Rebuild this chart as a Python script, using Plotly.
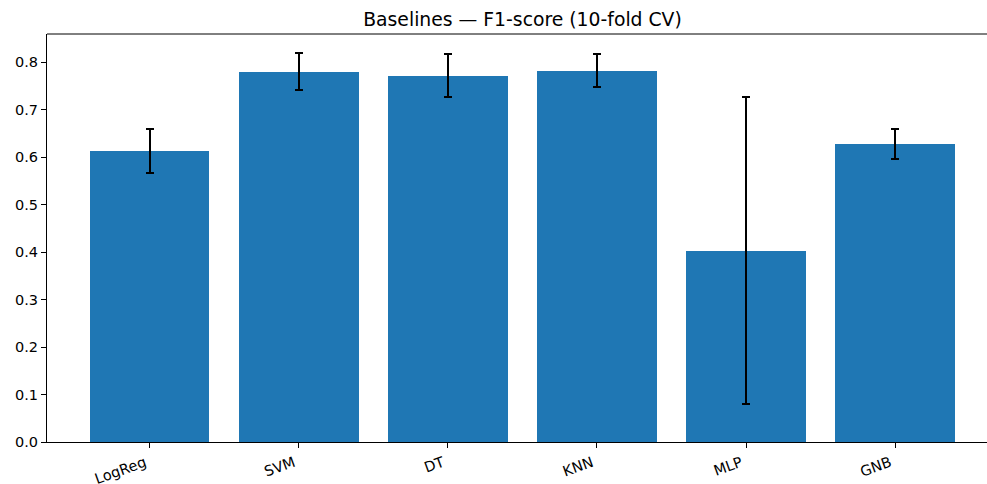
import plotly.graph_objects as go

models = ["LogReg", "SVM", "DT", "KNN", "MLP", "GNB"]
f1_mean = [0.613, 0.780, 0.771, 0.782, 0.403, 0.627]
f1_std = [0.046, 0.039, 0.045, 0.035, 0.323, 0.031]
y_ticks = [0.0, 0.1, 0.2, 0.3, 0.4, 0.5, 0.6, 0.7, 0.8]

fig = go.Figure()
fig.add_trace(go.Bar(
    x=list(range(len(models))),
    y=f1_mean,
    width=0.8,
    marker=dict(color="#1f77b4", line=dict(width=0)),
    error_y=dict(type="data", array=f1_std, visible=True,
                 color="black", thickness=2, width=4),
))

font = "DejaVu Sans"
fig.update_layout(
    width=987, height=484,
    margin=dict(l=47, r=0, t=34, b=42, autoexpand=False),
    paper_bgcolor="white", plot_bgcolor="white",
    showlegend=False,
    bargap=0,
    font=dict(family=font, size=14.5, color="black"),
    title=dict(text="Baselines — F1-score (10-fold CV)", xref="container",
               x=522.5 / 987, xanchor="center",
               y=1 - 19 / 484, yanchor="middle", font=dict(size=18.8, family=font)),
    xaxis=dict(
        range=[-0.69, 5.617], automargin=False,
        tickmode="array", tickvals=list(range(len(models))), ticktext=models,
        tickangle=-20, ticklabelshift=-5, ticklabelstandoff=1,
        ticks="outside", ticklen=5, tickwidth=1, tickcolor="black",
        showline=True, linecolor="black", linewidth=1, mirror=False,
        showgrid=False, zeroline=False,
        tickfont=dict(size=14.5, family=font),
    ),
    yaxis=dict(
        range=[0, 0.859], automargin=False,
        tickmode="array", tickvals=y_ticks, ticktext=[f"{v:.1f}" for v in y_ticks],
        ticks="outside", ticklen=5, tickwidth=1, tickcolor="black",
        showline=True, linecolor="black", linewidth=1, mirror=False,
        showgrid=False, zeroline=False,
        tickfont=dict(size=14.5, family=font),
    ),
)
# top spine
fig.add_shape(type="line", xref="paper", yref="paper", x0=0, x1=1, y0=1, y1=1,
              line=dict(color="black", width=1))

post = ("document.body.style.margin='0';document.body.style.padding='0';"
        "document.body.style.overflow='hidden';"
        "var gd=document.getElementById('{plot_id}');"
        "Plotly.relayout(gd,{width:987,height:484});")

fig.write_html("out.html", post_script=post, config={"displayModeBar": False})
